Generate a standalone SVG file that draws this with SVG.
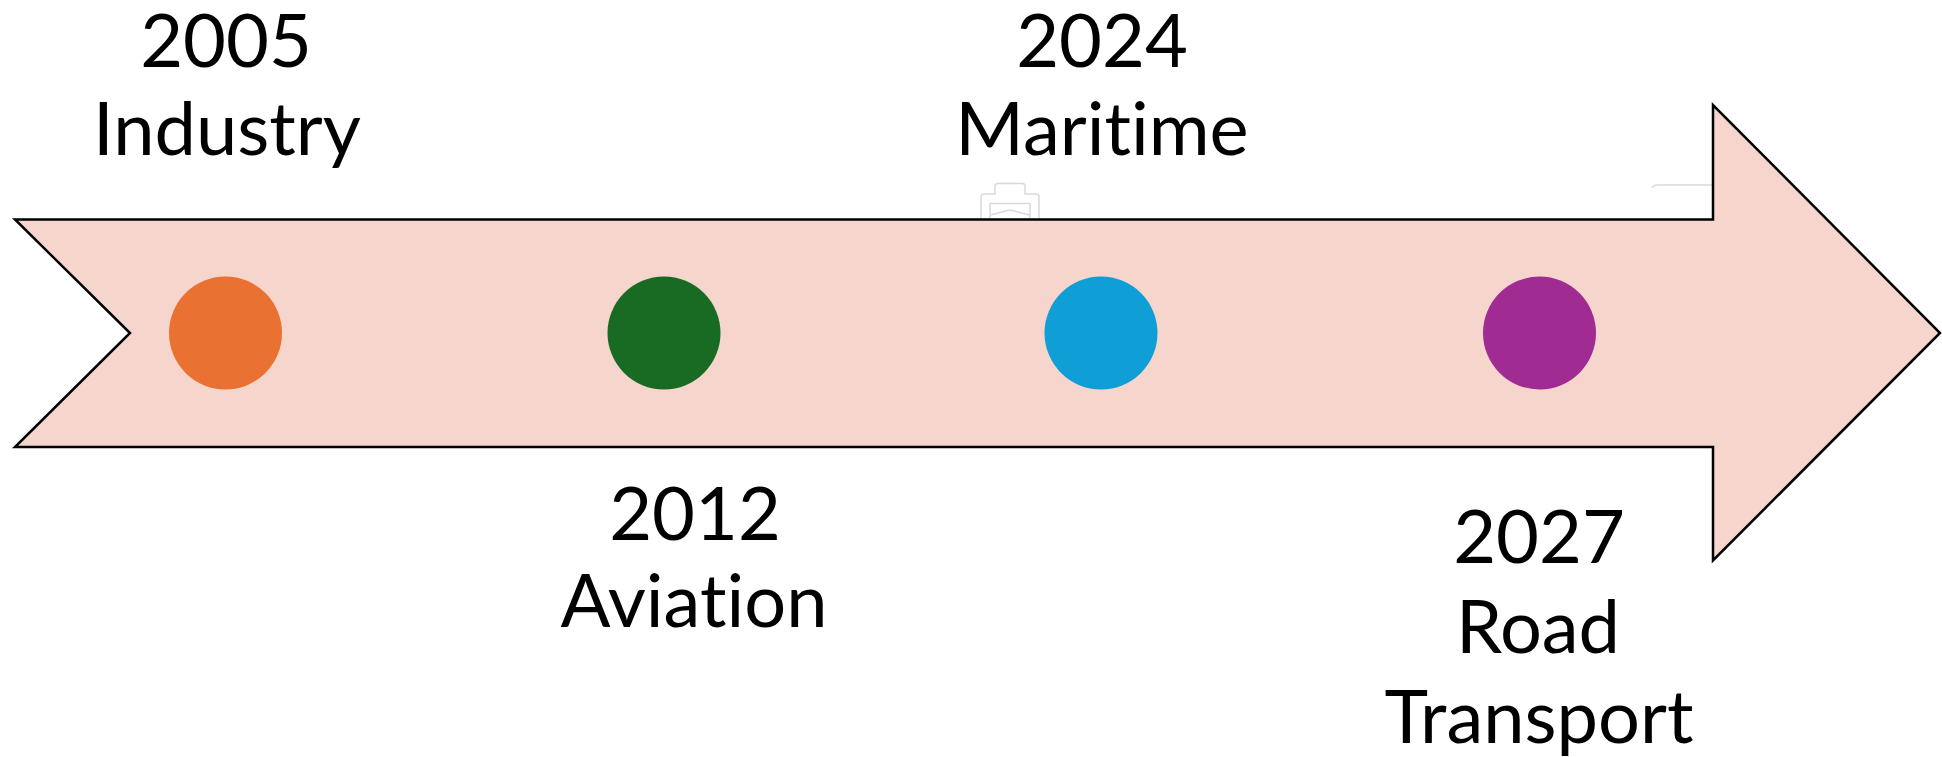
<svg xmlns="http://www.w3.org/2000/svg" width="1942" height="757" viewBox="0 0 1942 757">
  <style>
    .lbl { font-family: Lato, "Open Sans", "Liberation Sans", sans-serif; font-size: 74px; fill: #000000; text-anchor: middle; font-variant-ligatures: none; font-feature-settings: "liga" 0, "clig" 0; }
    .ghost { fill: none; stroke: #d9d9d9; stroke-width: 1.5; stroke-linejoin: round; }
  </style>
  <rect width="1942" height="757" fill="#ffffff"/>
  <g id="artifacts">
    <path class="ghost" d="M981,219 L981,197 Q981,194 984,194 L995,194 L995,186 Q995,183.5 998,183.5 L1022,183.5 Q1025,183.5 1025,186 L1025,194 L1036,194 Q1039,194 1039,197 L1039,219"/>
    <path class="ghost" d="M990,219 L990,203.5 L1030,203.5 L1030,219"/>
    <path class="ghost" d="M990,215 L1010,210 L1030,215"/>
    <path class="ghost" d="M1652,188 Q1653,185 1657,185 L1712,185"/>
  </g>
  <g id="timeline-arrow">
    <path d="M15,219.5 L1713,219.5 L1713,105 L1940,333 L1713,560.5 L1713,447 L15,447 L130,333 Z" fill="#F6D5CC" stroke="#000000" stroke-width="2.5" stroke-linejoin="miter"/>
  </g>
  <g id="connectors"></g>
  <g id="node-2005">
    <circle cx="225.5" cy="333" r="56.5" fill="#E97132"/>
    <text class="lbl" x="226" y="67">2005</text>
    <text class="lbl" x="227" y="155">Industry</text>
  </g>
  <g id="node-2012">
    <circle cx="664" cy="333" r="56.5" fill="#196B24"/>
    <text class="lbl" x="695" y="540">2012</text>
    <text class="lbl" x="694" y="627">Aviation</text>
  </g>
  <g id="node-2024">
    <circle cx="1101" cy="333" r="56.5" fill="#0F9ED5"/>
    <text class="lbl" x="1102" y="67">2024</text>
    <text class="lbl" x="1102" y="155">Maritime</text>
  </g>
  <g id="node-2027">
    <circle cx="1539.5" cy="333" r="56.5" fill="#A02B93"/>
    <text class="lbl" x="1539" y="563">2027</text>
    <text class="lbl" x="1538" y="653">Road</text>
    <text class="lbl" x="1539" y="743">Transport</text>
  </g>
</svg>
